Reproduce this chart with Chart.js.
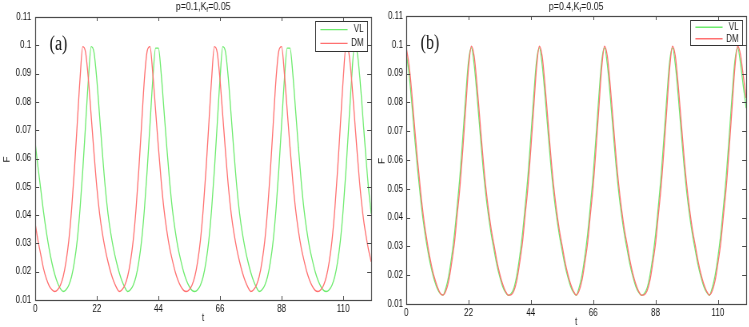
<!DOCTYPE html>
<html>
<head>
<meta charset="utf-8">
<script src="https://cdn.jsdelivr.net/npm/chart.js@4.4.0/dist/chart.umd.min.js"></script>
<style>
  body { margin: 0; background: #fff; }
  #wrap { position: relative; width: 749px; height: 327px; }
  .pane { position: absolute; top: 0; width: 374px; height: 327px; overflow: hidden; }
  /* the original figure was squeezed sideways; mimic it */
  .pane canvas { transform: scaleX(0.8); transform-origin: 0 0; }
</style>
</head>
<body>
<div id="wrap">
  <div class="pane" style="left:0"><canvas id="chartA" width="468" height="327"></canvas></div>
  <div class="pane" style="left:375px"><canvas id="chartB" width="468" height="327"></canvas></div>
</div>
<script>
// time grid and axis ticks
var tGrid = [
  0, 1, 2, 3, 4, 5, 6, 7, 8, 9,
  10, 11, 12, 13, 14, 15, 16, 17, 18, 19,
  20, 21, 22, 23, 24, 25, 26, 27, 28, 29,
  30, 31, 32, 33, 34, 35, 36, 37, 38, 39,
  40, 41, 42, 43, 44, 45, 46, 47, 48, 49,
  50, 51, 52, 53, 54, 55, 56, 57, 58, 59,
  60, 61, 62, 63, 64, 65, 66, 67, 68, 69,
  70, 71, 72, 73, 74, 75, 76, 77, 78, 79,
  80, 81, 82, 83, 84, 85, 86, 87, 88, 89,
  90, 91, 92, 93, 94, 95, 96, 97, 98, 99,
  100, 101, 102, 103, 104, 105, 106, 107, 108, 109,
  110, 111, 112, 113, 114, 115, 116, 117, 118, 119,
  120
];
var xTicks = [0, 22, 44, 66, 88, 110];
var yTicks = [0.01, 0.02, 0.03, 0.04, 0.05, 0.06, 0.07, 0.08, 0.09, 0.1, 0.11];
var seriesNames = ['VL', 'DM'];

// panel (a): p=0.1
var vlA = [
  0.0655, 0.057, 0.049, 0.041, 0.034, 0.028, 0.023, 0.019, 0.016, 0.014,
  0.013, 0.0136, 0.0152, 0.0183, 0.0235, 0.031, 0.042, 0.056, 0.072, 0.088,
  0.0995, 0.0975, 0.088, 0.075, 0.062, 0.050, 0.0405, 0.0335, 0.028, 0.0235,
  0.0197, 0.0167, 0.0145, 0.013, 0.0136, 0.0152, 0.0183, 0.0235, 0.031, 0.042,
  0.056, 0.072, 0.088, 0.099, 0.099, 0.090, 0.077, 0.064, 0.052, 0.042,
  0.0345, 0.0285, 0.024, 0.020, 0.017, 0.0148, 0.0134, 0.013, 0.0136, 0.0152,
  0.0183, 0.0235, 0.031, 0.042, 0.056, 0.072, 0.088, 0.0995, 0.0975, 0.088,
  0.075, 0.062, 0.050, 0.0405, 0.0335, 0.028, 0.0235, 0.0197, 0.0167, 0.0145,
  0.013, 0.0136, 0.0152, 0.0183, 0.0235, 0.031, 0.042, 0.056, 0.072, 0.088,
  0.099, 0.099, 0.090, 0.077, 0.064, 0.052, 0.042, 0.0345, 0.0285, 0.024,
  0.020, 0.017, 0.0148, 0.0134, 0.013, 0.0136, 0.0152, 0.0183, 0.0235, 0.031,
  0.042, 0.056, 0.072, 0.088, 0.0995, 0.0975, 0.088, 0.075, 0.062, 0.050,
  0.0405
];
var dmA = [
  0.037, 0.031, 0.026, 0.021, 0.0175, 0.015, 0.0136, 0.013, 0.0136, 0.0152,
  0.0183, 0.0235, 0.031, 0.042, 0.056, 0.072, 0.088, 0.0995, 0.0975, 0.088,
  0.075, 0.062, 0.050, 0.0405, 0.0335, 0.028, 0.0235, 0.0197, 0.0167, 0.0145,
  0.013, 0.0136, 0.0152, 0.0183, 0.0235, 0.031, 0.042, 0.056, 0.072, 0.088,
  0.098, 0.0995, 0.090, 0.077, 0.064, 0.052, 0.042, 0.0345, 0.0285, 0.024,
  0.020, 0.017, 0.0148, 0.0134, 0.013, 0.0136, 0.0152, 0.0183, 0.0235, 0.031,
  0.042, 0.056, 0.072, 0.088, 0.0995, 0.0975, 0.088, 0.075, 0.062, 0.050,
  0.0405, 0.0335, 0.028, 0.0235, 0.0197, 0.0167, 0.0145, 0.013, 0.0136, 0.0152,
  0.0183, 0.0235, 0.031, 0.042, 0.056, 0.072, 0.088, 0.098, 0.0995, 0.090,
  0.077, 0.064, 0.052, 0.042, 0.0345, 0.0285, 0.024, 0.020, 0.017, 0.0148,
  0.0134, 0.013, 0.0136, 0.0152, 0.0183, 0.0235, 0.031, 0.042, 0.056, 0.072,
  0.088, 0.0995, 0.0975, 0.088, 0.075, 0.062, 0.050, 0.0405, 0.0335, 0.028,
  0.0235
];

// panel (b): p=0.4
var vlB = [
  0.097, 0.090, 0.0794, 0.0677, 0.057, 0.0473, 0.0389, 0.0322, 0.0265, 0.0218,
  0.0181, 0.0153, 0.0136, 0.0131, 0.0155, 0.0198, 0.0261, 0.034, 0.044, 0.0549,
  0.0682, 0.0822, 0.0943, 0.099, 0.093, 0.0824, 0.0704, 0.0588, 0.0489, 0.0409,
  0.0343, 0.0288, 0.0236, 0.0195, 0.0162, 0.0141, 0.013, 0.0136, 0.0155, 0.0198,
  0.0261, 0.034, 0.044, 0.0549, 0.0682, 0.0822, 0.0943, 0.099, 0.093, 0.0824,
  0.0704, 0.0588, 0.0489, 0.0409, 0.0343, 0.0288, 0.0236, 0.0195, 0.0162, 0.0141,
  0.013, 0.0156, 0.0198, 0.0261, 0.034, 0.044, 0.0549, 0.0682, 0.0822, 0.0943,
  0.099, 0.093, 0.0824, 0.0704, 0.0588, 0.0489, 0.0409, 0.0343, 0.0288, 0.0236,
  0.0195, 0.0162, 0.0141, 0.013, 0.0136, 0.0155, 0.0198, 0.0261, 0.034, 0.044,
  0.0549, 0.0682, 0.0822, 0.0943, 0.099, 0.093, 0.0824, 0.0704, 0.0588, 0.0489,
  0.0409, 0.0343, 0.0288, 0.0236, 0.0195, 0.0162, 0.0141, 0.013, 0.0156, 0.0198,
  0.0261, 0.034, 0.044, 0.0549, 0.0682, 0.0822, 0.0943, 0.099, 0.0935, 0.0855,
  0.078
];
var dmB = [
  0.099, 0.093, 0.083, 0.071, 0.060, 0.050, 0.041, 0.034, 0.028, 0.023,
  0.019, 0.016, 0.0138, 0.0131, 0.0145, 0.018, 0.024, 0.031, 0.041, 0.051,
  0.064, 0.078, 0.092, 0.0995, 0.096, 0.086, 0.074, 0.062, 0.0515, 0.043,
  0.036, 0.0305, 0.025, 0.0205, 0.017, 0.0145, 0.0131, 0.0132, 0.0145, 0.018,
  0.024, 0.031, 0.041, 0.051, 0.064, 0.078, 0.092, 0.0995, 0.096, 0.086,
  0.074, 0.062, 0.0515, 0.043, 0.036, 0.0305, 0.025, 0.0205, 0.017, 0.0145,
  0.0131, 0.0145, 0.018, 0.024, 0.031, 0.041, 0.051, 0.064, 0.078, 0.092,
  0.0995, 0.096, 0.086, 0.074, 0.062, 0.0515, 0.043, 0.036, 0.0305, 0.025,
  0.0205, 0.017, 0.0145, 0.0131, 0.0132, 0.0145, 0.018, 0.024, 0.031, 0.041,
  0.051, 0.064, 0.078, 0.092, 0.0995, 0.096, 0.086, 0.074, 0.062, 0.0515,
  0.043, 0.036, 0.0305, 0.025, 0.0205, 0.017, 0.0145, 0.0131, 0.0145, 0.018,
  0.024, 0.031, 0.041, 0.051, 0.064, 0.078, 0.092, 0.0995, 0.0965, 0.089,
  0.0815
];

var green = 'rgb(110,235,110)';
var red = 'rgb(255,112,112)';
var sans = 'Liberation Sans, Arial, sans-serif';

function pairs(ys) {
  return tGrid.map(function(t, i) { return { x: t, y: ys[i] }; });
}

// box, inward ticks, title, axis names, panel letter and legend (MATLAB look)
// horizontal sizes are in canvas units, which get squeezed by 0.8
var framePlugin = {
  id: 'frame',
  afterDraw: function(chart, args, opts) {
    var ctx = chart.ctx;
    var a = chart.chartArea;
    var xs = chart.scales.x, ys = chart.scales.y;
    ctx.save();
    ctx.strokeStyle = '#4a4a4a';
    ctx.lineWidth = 1.2;
    ctx.strokeRect(Math.round(a.left) + 0.5, Math.round(a.top) + 0.5,
      Math.round(a.right - a.left), Math.round(a.bottom - a.top));
    ctx.lineWidth = 1;
    ctx.beginPath();
    xTicks.forEach(function(v) {
      var px = Math.round(xs.getPixelForValue(v)) + 0.5;
      ctx.moveTo(px, a.bottom); ctx.lineTo(px, a.bottom - 4);
      ctx.moveTo(px, a.top); ctx.lineTo(px, a.top + 4);
    });
    yTicks.forEach(function(v) {
      var py = Math.round(ys.getPixelForValue(v)) + 0.5;
      ctx.moveTo(a.left, py); ctx.lineTo(a.left + 5, py);
      ctx.moveTo(a.right, py); ctx.lineTo(a.right - 5, py);
    });
    ctx.stroke();

    // title with subscript f
    ctx.fillStyle = '#1a1a1a';
    ctx.textBaseline = 'middle';
    ctx.textAlign = 'left';
    var big = '11px ' + sans, small = '8px ' + sans;
    ctx.font = big;
    var w1 = ctx.measureText(opts.title[0]).width;
    var w3 = ctx.measureText(opts.title[2]).width;
    ctx.font = small;
    var w2 = ctx.measureText(opts.title[1]).width;
    var cx = (a.left + a.right) / 2;
    var tx = cx - (w1 + w2 + w3) / 2;
    ctx.font = big;
    ctx.fillText(opts.title[0], tx, 7);
    ctx.font = small;
    ctx.fillText(opts.title[1], tx + w1, 10);
    ctx.font = big;
    ctx.fillText(opts.title[2], tx + w1 + w2, 7);

    // axis names
    ctx.font = '10px ' + sans;
    ctx.textAlign = 'center';
    ctx.fillText('t', cx, a.bottom + opts.tGap);
    ctx.save();
    ctx.translate(9, (a.top + a.bottom) / 2 + 1);
    ctx.rotate(-Math.PI / 2);
    ctx.fillText('F', 0, 0);
    ctx.restore();

    // panel letter
    ctx.font = '20px Liberation Serif, Times New Roman, serif';
    ctx.textAlign = 'left';
    ctx.textBaseline = 'alphabetic';
    ctx.fillStyle = '#111';
    ctx.fillText(opts.panel, a.left + 18, a.top + 33);

    // legend box
    var bw = 65, bh = opts.legendH;
    var bx = Math.round(a.right - 5 - bw) + 0.5, by = Math.round(a.top + 4) + 0.5;
    ctx.fillStyle = '#fff';
    ctx.fillRect(bx, by, bw, bh);
    ctx.strokeStyle = '#333';
    ctx.strokeRect(bx, by, bw, bh);
    ctx.font = '10px ' + sans;
    ctx.textAlign = 'right';
    ctx.textBaseline = 'middle';
    chart.data.datasets.forEach(function(ds, i) {
      var ry = by + bh * (i === 0 ? 0.27 : 0.73);
      ctx.strokeStyle = ds.borderColor;
      ctx.lineWidth = 1.4;
      ctx.beginPath();
      ctx.moveTo(bx + 6, ry); ctx.lineTo(bx + 40, ry);
      ctx.stroke();
      ctx.fillStyle = '#1a1a1a';
      ctx.fillText(ds.label, bx + bw - 5, ry);
    });
    ctx.restore();
  }
};

function makeChart(id, vl, dm, o) {
  var ctx = document.getElementById(id).getContext('2d');
  return new Chart(ctx, {
    type: 'line',
    data: {
      datasets: [
        { label: seriesNames[0], data: pairs(vl), borderColor: green, order: 1 },
        { label: seriesNames[1], data: pairs(dm), borderColor: red, order: 0 }
      ]
    },
    options: {
      responsive: false,
      animation: false,
      parsing: false,
      elements: {
        point: { radius: 0 },
        line: { borderWidth: 1.3, cubicInterpolationMode: 'monotone', fill: false }
      },
      layout: { padding: { top: o.top, right: 4, bottom: 0, left: 0 } },
      scales: {
        x: {
          type: 'linear', min: 0, max: 120,
          grid: { display: false, drawTicks: false },
          border: { display: false },
          afterBuildTicks: function(s) { s.ticks = xTicks.map(function(v) { return { value: v }; }); },
          afterFit: function(s) { s.height = o.bottom; },
          ticks: { padding: 3, color: '#111', maxRotation: 0, autoSkip: false,
            font: { family: sans, size: 10 } }
        },
        y: {
          type: 'linear', min: 0.01, max: 0.11,
          grid: { display: false, drawTicks: false },
          border: { display: false },
          afterBuildTicks: function(s) { s.ticks = yTicks.map(function(v) { return { value: v }; }); },
          afterFit: function(s) { s.width = o.left; },
          ticks: { padding: o.yPad, color: '#111', autoSkip: false,
            font: { family: sans, size: 10 },
            callback: function(v) { return String(+v.toFixed(2)); } }
        }
      },
      plugins: {
        legend: { display: false },
        tooltip: { enabled: false },
        frame: { title: o.title, panel: o.panel, legendH: o.legendH, tGap: o.tGap }
      }
    },
    plugins: [framePlugin]
  });
}

makeChart('chartA', vlA, dmA, {
  top: 17, bottom: 27, left: 44, yPad: 5, legendH: 30, tGap: 18,
  title: ['p=0.1,K', 'f', '=0.05'], panel: '(a)'
});
makeChart('chartB', vlB, dmB, {
  top: 16, bottom: 23, left: 39, yPad: 4, legendH: 25, tGap: 18,
  title: ['p=0.4,K', 'f', '=0.05'], panel: '(b)'
});
</script>
</body>
</html>
